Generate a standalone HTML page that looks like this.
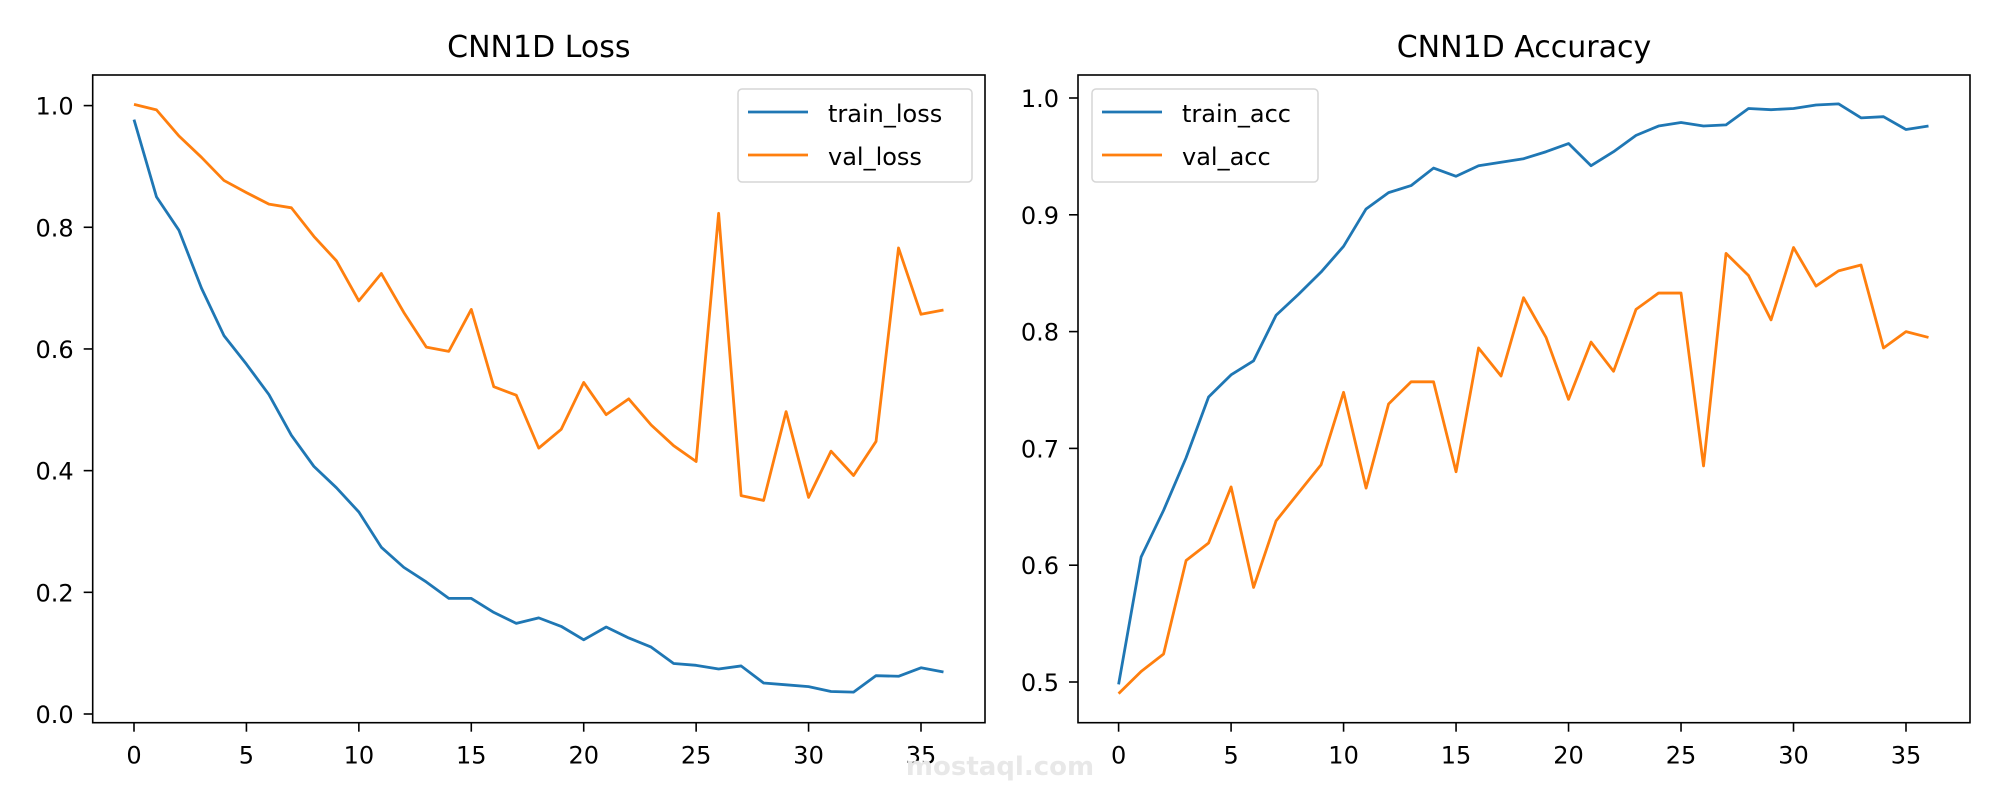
<!DOCTYPE html>
<html><head><meta charset="utf-8"><style>
html,body{margin:0;padding:0;background:#fff;}
svg{display:block;font-family:"DejaVu Sans","Liberation Sans",sans-serif;}
</style></head><body>
<svg id="chart" width="2000" height="800" viewBox="0 0 2000 800"></svg>
<script>
const epochs = Array.from({length:37},(_,i)=>i);
const trainLoss = [0.977,0.85,0.795,0.70,0.622,0.575,0.525,0.458,0.407,0.372,0.332,0.274,0.241,0.217,0.19,0.19,0.167,0.149,0.158,0.144,0.122,0.143,0.125,0.11,0.083,0.08,0.074,0.079,0.051,0.048,0.045,0.037,0.036,0.063,0.062,0.076,0.069];
const valLoss = [1.002,0.993,0.95,0.915,0.877,0.857,0.838,0.832,0.785,0.745,0.679,0.724,0.66,0.603,0.596,0.665,0.538,0.524,0.437,0.468,0.545,0.492,0.518,0.475,0.441,0.415,0.823,0.359,0.351,0.497,0.356,0.432,0.392,0.448,0.766,0.657,0.664];
const trainAcc = [0.498,0.607,0.647,0.692,0.744,0.763,0.775,0.814,0.832,0.851,0.873,0.905,0.919,0.925,0.940,0.933,0.942,0.945,0.948,0.954,0.961,0.942,0.954,0.968,0.976,0.979,0.976,0.977,0.991,0.990,0.991,0.994,0.995,0.983,0.984,0.973,0.976];
const valAcc = [0.490,0.509,0.524,0.604,0.619,0.667,0.581,0.638,0.662,0.686,0.748,0.666,0.738,0.757,0.757,0.680,0.786,0.762,0.829,0.795,0.742,0.791,0.766,0.819,0.833,0.833,0.685,0.867,0.848,0.810,0.872,0.839,0.852,0.857,0.786,0.800,0.795];
const xTicks = [0,5,10,15,20,25,30,35];
const lossTicks = [0,0.2,0.4,0.6,0.8,1.0];
const accTicks = [0.5,0.6,0.7,0.8,0.9,1.0];

const NS="http://www.w3.org/2000/svg";
const svg=document.getElementById('chart');
function mk(tag,attrs,parent){const e=document.createElementNS(NS,tag);for(const k in attrs)e.setAttribute(k,attrs[k]);(parent||svg).appendChild(e);return e;}

function panel(cfg){
  const g=mk('g',{});
  
  
  const {x0,x1,y0,y1}=cfg;
  const sx=v=>cfg.px0+(v-0)*(cfg.px35-cfg.px0)/35;
  const sy=v=>cfg.pyA+(v-cfg.vA)*(cfg.pyB-cfg.pyA)/(cfg.vB-cfg.vA);
  const t=mk('text',{x:(x0+x1)/2,y:57,'text-anchor':'middle','font-size':30,fill:'#000'},g);
  t.textContent=cfg.title;
  
  
  xTicks.forEach(v=>{
    const x=sx(v);
    mk('line',{x1:x,x2:x,y1:y1,y2:y1+9,stroke:'#000','stroke-width':1.6},g);
    const l=mk('text',{x:x,y:y1+41,'text-anchor':'middle','font-size':24,fill:'#000'},g);
    l.textContent=v;
    
    
  });
  cfg.yTicks.forEach(v=>{
    const y=sy(v);
    mk('line',{x1:x0-9,x2:x0,y1:y,y2:y,stroke:'#000','stroke-width':1.6},g);
    const l=mk('text',{x:x0-19,y:y+9,'text-anchor':'end','font-size':24,fill:'#000'},g);
    l.textContent=v.toFixed(1);
    
    
  });
  cfg.series.forEach(s=>{
    const p=mk('polyline',{points:epochs.map((e,i)=>sx(e)+','+sy(s.data[i])).join(' '),fill:'none',stroke:s.color,'stroke-width':2.8,'stroke-linejoin':'round'},g);
    
    
  });
  mk('rect',{x:x0,y:y0,width:x1-x0,height:y1-y0,fill:'none',stroke:'#000','stroke-width':1.6},g);
  const lg=mk('g',{},g);
  
  
  mk('rect',{x:cfg.lx,y:89,width:cfg.lw,height:93,rx:4,fill:'#fff','fill-opacity':0.8,stroke:'#d6d6d6','stroke-width':1.5},lg);
  cfg.series.forEach((s,i)=>{
    const y=112+i*43;
    mk('line',{x1:cfg.lx+10,x2:cfg.lx+70,y1:y,y2:y,stroke:s.color,'stroke-width':2.8},lg);
    const tx=mk('text',{x:cfg.lx+90,y:y+10,'font-size':24,fill:'#000'},lg);
    tx.textContent=s.label;
    
    
  });
}
panel({name:'loss-chart',title:'CNN1D Loss',x0:92.7,x1:985,y0:75,y1:722.7,px0:134,px35:921,vA:0,pyA:714,vB:1,pyB:105.6,yTicks:lossTicks,lx:738,lw:234,
  series:[{label:'train_loss',data:trainLoss,color:'#1f77b4'},{label:'val_loss',data:valLoss,color:'#ff7f0e'}]});
panel({name:'accuracy-chart',title:'CNN1D Accuracy',x0:1078,x1:1970,y0:75,y1:722.7,px0:1118.6,px35:1906,vA:0.5,pyA:682,vB:1,pyB:98,yTicks:accTicks,lx:1092,lw:226,
  series:[{label:'train_acc',data:trainAcc,color:'#1f77b4'},{label:'val_acc',data:valAcc,color:'#ff7f0e'}]});
const wm=mk('text',{x:1000,y:775,'text-anchor':'middle','font-size':26,'font-weight':'bold',fill:'#e8e8e8'});
wm.textContent='mostaql.com';


</script>
</body></html>
